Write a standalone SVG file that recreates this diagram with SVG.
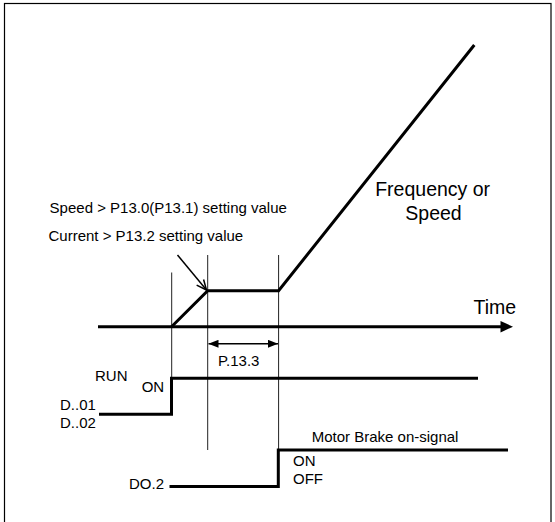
<svg xmlns="http://www.w3.org/2000/svg" width="555" height="522" viewBox="0 0 555 522">
<style>
text{font-family:"Liberation Sans",Arial,sans-serif;fill:#000;font-size:15px}
.thick{fill:none;stroke:#000;stroke-width:3;stroke-linejoin:miter}
.thin{fill:none;stroke:#222;stroke-width:1}
.big{font-size:19.5px}
</style>
<defs>
<marker id="openArrow" viewBox="0 0 12 12" refX="11" refY="6" markerWidth="12" markerHeight="12" markerUnits="userSpaceOnUse" orient="auto">
<polyline points="1,1.5 11,6 1,10.5" fill="none" stroke="#000" stroke-width="1.5"/>
</marker>
<marker id="solidArrow" viewBox="0 0 10 8" refX="10" refY="4" markerWidth="10" markerHeight="8" markerUnits="userSpaceOnUse" orient="auto-start-reverse">
<path d="M0,0 L10,4 L0,8 Z" fill="#000"/>
</marker>
</defs>
<rect id="frame" x="4.5" y="3.5" width="546.5" height="522" fill="#fff" stroke="#000" stroke-width="1.2"/>

<g id="guides">
<line class="thin" x1="171.7" y1="272.5" x2="171.7" y2="378"/>
<line class="thin" x1="207.7" y1="255" x2="207.7" y2="450"/>
<line class="thin" x1="278.6" y1="255" x2="278.6" y2="450"/>
</g>

<g id="time-axis">
<line class="thick" x1="98" y1="326.7" x2="502" y2="326.7"/>
<path d="M500.5,321 L513,326.7 L500.5,332.4 Z" fill="#000"/>
<text x="473.5" y="314" class="big">Time</text>
</g>

<g id="speed-curve">
<polyline class="thick" points="171.5,326.7 207.7,290.7 278.6,290.7 474.3,45"/>
<text x="375.2" y="196" class="big">Frequency or</text>
<text x="405.3" y="220" class="big">Speed</text>
</g>

<g id="threshold-note">
<text x="49.6" y="213">Speed &gt; P13.0(P13.1) setting value</text>
<text x="48.5" y="240.5">Current &gt; P13.2 setting value</text>
<line x1="177.5" y1="255" x2="206.5" y2="290" stroke="#000" stroke-width="1.5" marker-end="url(#openArrow)"/>
</g>

<g id="delay-p133">
<line x1="208.5" y1="343.8" x2="278" y2="343.8" stroke="#000" stroke-width="1.5" marker-start="url(#solidArrow)" marker-end="url(#solidArrow)"/>
<text x="218" y="366">P.13.3</text>
</g>

<g id="run-signal">
<polyline class="thick" points="99,414.3 171.5,414.3 171.5,378.3 478,378.3"/>
<text x="95" y="381">RUN</text>
<text x="141.7" y="391.7">ON</text>
<text x="60" y="409.5">D..01</text>
<text x="60" y="427.8">D..02</text>
</g>

<g id="brake-signal">
<polyline class="thick" points="169.5,486.5 278.3,486.5 278.3,450 508,450"/>
<text x="129" y="489">DO.2</text>
<text x="311.7" y="441.7">Motor Brake on-signal</text>
<text x="293" y="465.5">ON</text>
<text x="293" y="484.3">OFF</text>
</g>
</svg>
